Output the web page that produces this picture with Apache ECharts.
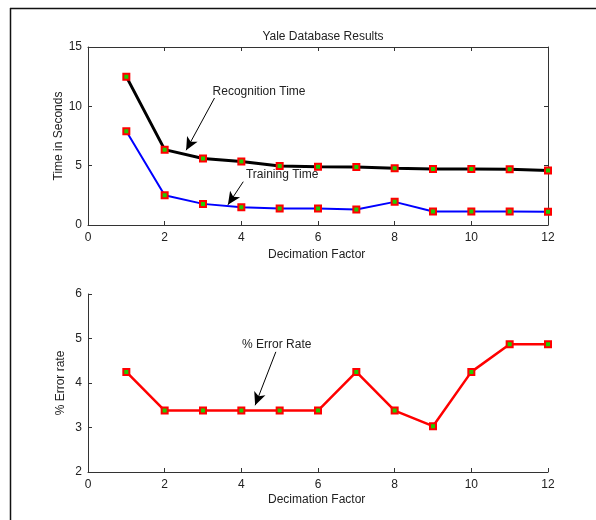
<!DOCTYPE html>
<html><head><meta charset="utf-8">
<script src="https://cdn.jsdelivr.net/npm/echarts@6/dist/echarts.min.js"></script>
<style>html,body{margin:0;padding:0;background:#fff}#c{width:596px;height:520px}</style>
</head><body><div id="c"></div>
<script>
const factors = [1,2,3,4,5,6,7,8,9,10,11,12];
const recognitionTime = [12.5,6.35,5.6,5.35,4.98,4.9,4.88,4.78,4.72,4.72,4.7,4.6];
const trainingTime = [7.9,2.5,1.78,1.5,1.4,1.38,1.3,1.95,1.13,1.13,1.13,1.12];
const errorRate = [4.25,3.38,3.38,3.38,3.38,3.38,4.25,3.38,3.03,4.25,4.87,4.87];
const xTicks = [0,2,4,6,8,10,12];
const timeTicks = [0,5,10,15];
const errTicks = [2,3,4,5,6];
// annotations (data coordinates)
const recogNote = {text:'Recognition Time', at:[3.25,11.2], from:[3.3,10.7], to:[2.56,6.3]};
const trainNote = {text:'Training Time', at:[4.12,4.25], from:[4.05,3.65], to:[3.65,1.7]};
const errNote = {text:'% Error Rate', at:[4.02,4.85], from:[4.9,4.7], to:[4.36,3.5]};

const font = 'Liberation Sans';
const txt = '#222';
const pair = (xs, ys) => xs.map((x,i)=>[x, ys[i]]);

function xAx(grid, opts){
  return Object.assign({type:'value', gridIndex:grid, min:xTicks[0], max:xTicks[xTicks.length-1], interval:xTicks[1]-xTicks[0],
    axisLine:{show:true,onZero:false,lineStyle:{color:'#333',width:1}},
    axisTick:{show:true,inside:true,length:4,lineStyle:{color:'#333'}},
    axisLabel:{show:true,color:txt,fontFamily:font,fontSize:12,margin:7},
    splitLine:{show:false}}, opts||{});
}
function yAx(grid, ticks, opts){
  return Object.assign({type:'value', gridIndex:grid, min:ticks[0], max:ticks[ticks.length-1], interval:ticks[1]-ticks[0],
    axisLine:{show:true,onZero:false,lineStyle:{color:'#333',width:1}},
    axisTick:{show:true,inside:true,length:4,lineStyle:{color:'#333'}},
    axisLabel:{show:true,color:txt,fontFamily:font,fontSize:12,margin:6},
    splitLine:{show:false}}, opts||{});
}
const sym = {symbol:'rect', symbolSize:6, itemStyle:{color:'#22cc00', borderColor:'#ff0000', borderWidth:2}};
function note(n, xi, yi){
  return {type:'line', xAxisIndex:xi, yAxisIndex:yi, data:[], silent:true,
    markLine:{silent:true, symbol:['none','arrow'], symbolSize:[9,13], animation:false,
      lineStyle:{color:'#000',width:1,type:'solid'}, label:{show:false},
      data:[[{coord:n.from},{coord:n.to}]]},
    markPoint:{silent:true, symbol:'circle', symbolSize:0, animation:false,
      data:[{coord:n.at, label:{show:true, position:'right', distance:0, formatter:n.text, color:txt, fontFamily:font, fontSize:12}}]}};
}

const chart = echarts.init(document.getElementById('c'), null, {renderer:'canvas'});
chart.setOption({
  animation:false,
  backgroundColor:'#fff',
  title:{text:'Yale Database Results', left:318, top:26, textAlign:'center',
    textStyle:{fontFamily:font,fontSize:12,fontWeight:'normal',color:txt}},
  graphic:[
    {type:'line', shape:{x1:10,y1:8.5,x2:596,y2:8.5}, style:{stroke:'#111',lineWidth:1.5}},
    {type:'line', shape:{x1:10.5,y1:8,x2:10.5,y2:520}, style:{stroke:'#111',lineWidth:1.5}},
    {type:'text', left:268, top:249, style:{text:'Decimation Factor', fontFamily:font, fontSize:12, fill:txt}},
    {type:'text', left:268, top:494, style:{text:'Decimation Factor', fontFamily:font, fontSize:12, fill:txt}},
    {type:'text', x:59, y:136, rotation:Math.PI/2, style:{text:'Time in Seconds', fontFamily:font, fontSize:12, fill:txt, align:'center', verticalAlign:'middle'}},
    {type:'text', x:61, y:383, rotation:Math.PI/2, style:{text:'% Error rate', fontFamily:font, fontSize:12, fill:txt, align:'center', verticalAlign:'middle'}}
  ],
  grid:[
    {left:88, top:47, width:460, height:178, show:false},
    {left:88, top:294, width:460, height:178, show:false}
  ],
  xAxis:[
    xAx(0),
    xAx(0,{position:'top', axisLabel:{show:false}}),
    xAx(1)
  ],
  yAxis:[
    yAx(0,timeTicks),
    yAx(0,timeTicks,{position:'right', axisLabel:{show:false}}),
    yAx(1,errTicks)
  ],
  series:[
    Object.assign({type:'line', name:'Recognition Time', xAxisIndex:0, yAxisIndex:0, data:pair(factors,recognitionTime),
      lineStyle:{color:'#000',width:3}, z:3}, sym),
    Object.assign({type:'line', name:'Training Time', xAxisIndex:0, yAxisIndex:0, data:pair(factors,trainingTime),
      lineStyle:{color:'#0000ff',width:2}, z:3}, sym),
    Object.assign({type:'line', name:'% Error Rate', xAxisIndex:2, yAxisIndex:2, data:pair(factors,errorRate),
      lineStyle:{color:'#ff0000',width:2.5}, z:3}, sym),
    note(recogNote,0,0),
    note(trainNote,0,0),
    note(errNote,2,2)
  ]
});
</script></body></html>
